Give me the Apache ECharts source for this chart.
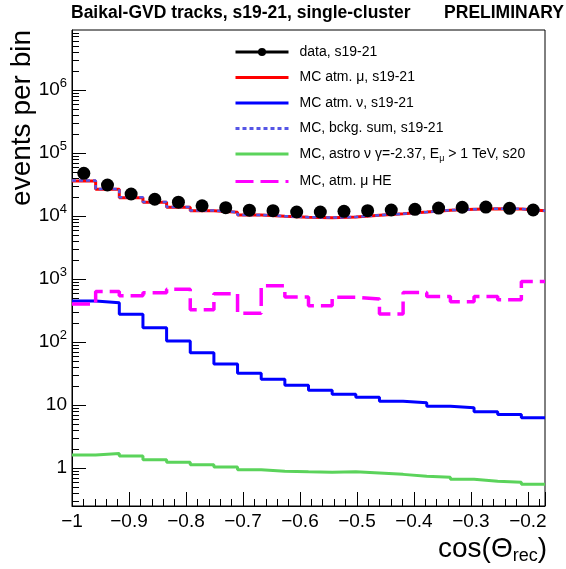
<!DOCTYPE html>
<html>
<head>
<meta charset="utf-8">
<script src="https://cdn.jsdelivr.net/npm/echarts@6/dist/echarts.min.js"></script>
<style>
html,body{margin:0;padding:0;background:#fff;}
#c{width:566px;height:569px;}
</style>
</head>
<body>
<div id="c"></div>
<script>
// ---- data ----
const binEdges = [-1, -0.9585, -0.917, -0.8755, -0.834, -0.7925, -0.751, -0.7095, -0.668, -0.6265, -0.585,
                  -0.5435, -0.502, -0.4605, -0.419, -0.3775, -0.336, -0.2945, -0.253, -0.2115, -0.17];
const dataCounts = [47700, 31100, 22400, 18500, 16600, 14600, 13600, 12400, 12200, 11600,
                    11600, 11900, 12200, 12500, 12800, 13400, 13800, 13900, 13300, 12500];
const mcAtmMu = [36100, 26600, 19600, 16600, 13800, 12200, 11500, 10400, 9930, 9570,
                 9440, 9680, 10300, 10900, 11600, 12400, 12800, 13100, 13000, 12200];
const mcAtmNu = [450, 423, 277, 170, 104, 68, 45, 32, 25.8, 20.7,
                 17.3, 14.9, 13.4, 11.6, 10.9, 9.6, 9.1, 7.9, 7.1, 6.3];
const mcBckgSum = [36550, 27020, 19880, 16770, 13900, 12270, 11545, 10430, 9956, 9591,
                   9457, 9695, 10313, 10912, 11611, 12410, 12809, 13108, 13007, 12206];
const mcAstro = [1.63, 1.71, 1.57, 1.37, 1.24, 1.14, 1.05, 0.95, 0.90, 0.88,
                 0.863, 0.88, 0.84, 0.80, 0.746, 0.72, 0.668, 0.622, 0.60, 0.557];
const mcAtmMuHE = [405, 635, 547, 610, 690, 326, 585, 288, 783, 520,
                   377, 517, 482, 281, 612, 530, 436, 530, 469, 916];
const yMajorTicks = [1, 10, 100, 1000, 10000, 100000, 1000000];
const seriesNames = ['data, s19-21', 'MC atm. μ, s19-21', 'MC atm. ν, s19-21', 'MC, bckg. sum, s19-21',
                     'MC, astro ν γ=-2.37, E_μ > 1 TeV, s20', 'MC, atm. μ HE'];

// ---- helpers ----
function histo(vals) {
  return binEdges.map((e, i) => [e, vals[Math.min(i, vals.length - 1)]]);
}
const centers = binEdges.slice(0, -1).map((e, i) => (e + binEdges[i + 1]) / 2);
const yMinor = [];
for (let e = -1; e <= 6; e++) for (let m = 2; m <= 9; m++) yMinor.push(m * Math.pow(10, e));

const FONT = 'Liberation Sans';
const yMin = 0.252, yMax = 8.95e6;

const chart = echarts.init(document.getElementById('c'), null, {renderer: 'canvas'});
chart.setOption({
  animation: false,
  backgroundColor: '#fff',
  title: [
    {text: 'Baikal-GVD tracks, s19-21, single-cluster', left: 71, top: 4, padding: 0,
     textStyle: {fontFamily: FONT, fontWeight: 'bold', fontSize: 17.5, color: '#000'}},
    {text: 'PRELIMINARY', right: 2, top: 4, padding: 0,
     textStyle: {fontFamily: FONT, fontWeight: 'bold', fontSize: 17.5, color: '#000'}}
  ],
  grid: {left: 72, top: 30, width: 473, height: 476, show: true, borderColor: '#000', borderWidth: 1, containLabel: false},
  legend: {
    orient: 'vertical', left: 234, top: 45, padding: 0,
    itemWidth: 53, itemHeight: 10, itemGap: 11.5,
    itemStyle: {opacity: 0},
    lineStyle: {width: 3},
    textStyle: {fontFamily: FONT, fontSize: 14, color: '#000', padding: [0, 0, 0, 6],
      rich: {sub: {fontFamily: FONT, fontSize: 9, color: '#000', padding: [9, 0, 0, 0]}}},
    formatter: n => n.replace('E_μ', 'E{sub|μ}'),
    data: [
      {name: seriesNames[0], lineStyle: {width: 3, color: '#000', opacity: 1}, itemStyle: {opacity: 1, color: '#000'}},
      seriesNames[1], seriesNames[2], seriesNames[3], seriesNames[4], seriesNames[5]
    ]
  },
  xAxis: {
    type: 'value', min: -1, max: -0.17, interval: 0.1,
    axisLine: {show: true, lineStyle: {color: '#000', width: 1}},
    axisTick: {show: true, inside: true, length: 14, lineStyle: {color: '#000'}},
    minorTick: {show: true, splitNumber: 5, length: 7, lineStyle: {color: '#000'}},
    splitLine: {show: false},
    axisLabel: {color: '#000', fontFamily: FONT, fontSize: 19, margin: 6, showMaxLabel: false,
      formatter: v => (v < 0 ? '\u2212' : '') + String(Math.round(Math.abs(v) * 10) / 10)}
  },
  yAxis: [
    {
      type: 'log', logBase: 10, min: yMin, max: yMax, position: 'left',
      axisLine: {show: true, lineStyle: {color: '#000', width: 1}},
      axisTick: {show: true, inside: true, length: 14, lineStyle: {color: '#000'}, customValues: yMajorTicks},
      splitLine: {show: false},
      axisLabel: {color: '#000', fontFamily: FONT, fontSize: 19, margin: 5, customValues: yMajorTicks,
        formatter: v => {
          const e = Math.round(Math.log10(v));
          if (e === 0) return '1';
          if (e === 1) return '10';
          return '10{sup|' + e + '}';
        },
        rich: {sup: {fontFamily: FONT, fontSize: 13, color: '#000', padding: [0, 0, 14, 0]}}}
    },
    {
      type: 'log', logBase: 10, min: yMin, max: yMax, position: 'left', offset: 0,
      axisLine: {show: false},
      axisTick: {show: true, inside: true, length: 7, lineStyle: {color: '#000'}, customValues: yMinor},
      splitLine: {show: false},
      axisLabel: {show: false}
    }
  ],
  graphic: [
    {type: 'text', x: 22, y: 30, rotation: Math.PI / 2,
     style: {text: 'events per bin', font: '28px "Liberation Sans"', fill: '#000', textAlign: 'right', textVerticalAlign: 'middle'}},
    {type: 'text', right: 19, top: 535,
     style: {text: 'cos(Θ{sub|rec})', font: '28px "Liberation Sans"', fill: '#000',
       rich: {sub: {font: '18px "Liberation Sans"', fill: '#000', padding: [14, 0, 0, 0]}}}}
  ],
  series: [
    {name: seriesNames[1], type: 'line', step: 'end', symbol: 'none', data: histo(mcAtmMu),
     lineStyle: {color: '#ff0000', width: 3}, itemStyle: {color: '#ff0000'}, z: 3},
    {name: seriesNames[2], type: 'line', step: 'end', symbol: 'none', data: histo(mcAtmNu),
     lineStyle: {color: '#0000ff', width: 3}, itemStyle: {color: '#0000ff'}, z: 3},
    {name: seriesNames[3], type: 'line', step: 'end', symbol: 'none', data: histo(mcBckgSum),
     lineStyle: {color: '#5555e6', width: 2.5, type: [4, 3]}, itemStyle: {color: '#5555e6'}, z: 4},
    {name: seriesNames[4], type: 'line', step: 'end', symbol: 'none', data: histo(mcAstro),
     lineStyle: {color: '#5bd35b', width: 3}, itemStyle: {color: '#5bd35b'}, z: 3},
    {name: seriesNames[5], type: 'line', step: 'end', symbol: 'none', data: histo(mcAtmMuHE),
     lineStyle: {color: '#ff00ff', width: 3.5, type: [18, 7]}, itemStyle: {color: '#ff00ff'}, z: 3},
    {name: seriesNames[0], type: 'line', symbol: 'circle', symbolSize: 13, showSymbol: true,
     data: centers.map((c, i) => [c, dataCounts[i]]),
     lineStyle: {width: 0, opacity: 0}, itemStyle: {color: '#000'}, z: 5}
  ]
});
</script>
</body>
</html>
